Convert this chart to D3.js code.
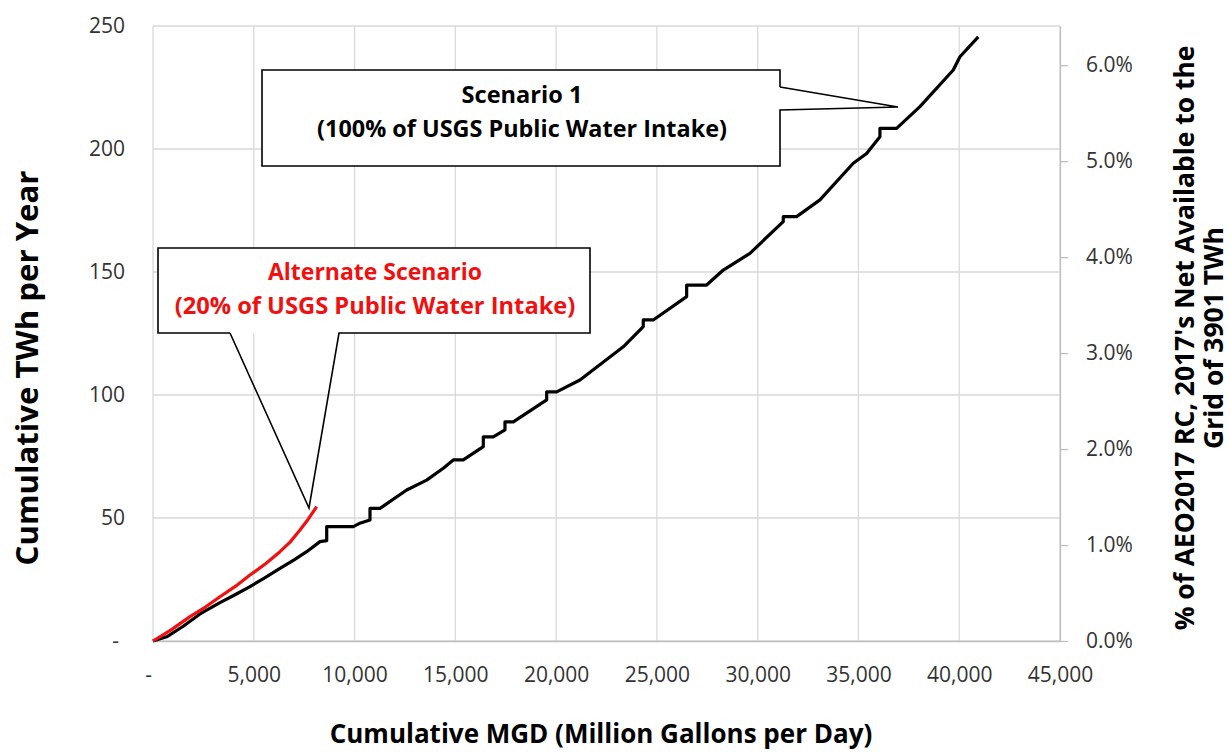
<!DOCTYPE html>
<html>
<head>
<meta charset="utf-8">
<script src="https://cdn.jsdelivr.net/npm/d3@7"></script>
<style>
  body { margin: 0; background: #fff; }
  text { font-family: "Open Sans", "Noto Sans", sans-serif; }
</style>
</head>
<body>
<div id="chart"></div>
<script>
// Scenario 1 (100% of USGS public water intake)
var mgd1 = [0, 680, 1500, 2332, 3300, 4000, 4812, 5500, 6300, 7000, 7625, 8285, 8618, 8618, 9937,
    10300, 10766, 10766, 11262, 12586, 13578, 14403, 14899, 15394, 16387, 16387, 16883, 17463, 17463,
    17877, 19532, 19532, 20028, 21183, 23332, 24324, 24324, 24820, 26477, 26477, 27469, 28293, 29617,
    31270, 31270, 31934, 33090, 34743, 35405, 36066, 36066, 36894, 38050, 39704, 40035, 40945];
var twh1 = [0, 1.7, 6.0, 11.0, 15.5, 18.5, 22.1, 25.5, 29.5, 33.0, 36.3, 40.4, 40.8, 46.5, 46.5,
    48.0, 49.2, 53.9, 53.9, 61.4, 65.4, 70.2, 73.6, 73.6, 79.0, 83.0, 83.0, 85.8, 89.1,
    89.1, 98.0, 101.3, 101.3, 106.1, 119.6, 127.8, 130.5, 130.5, 140.0, 144.7, 144.7, 150.8, 157.6,
    170.5, 172.5, 172.5, 179.3, 194.2, 198.2, 205.0, 208.4, 208.4, 217.2, 232.1, 237.5, 245.6];

// Alternate scenario (20% of USGS public water intake)
var mgd2 = [0, 900, 1836, 2600, 3324, 4100, 4812, 5600, 6300, 6800, 7293, 7700, 8120];
var twh2 = [0, 4.5, 9.9, 13.8, 18.0, 22.3, 26.8, 31.5, 36.3, 40.2, 45.1, 49.5, 54.6];

var xTicks = [0, 5000, 10000, 15000, 20000, 25000, 30000, 35000, 40000, 45000];
var yTicks = [0, 50, 100, 150, 200, 250];
var pctTicks = [0, 0.01, 0.02, 0.03, 0.04, 0.05, 0.06];
var gridTotal = 3901;

var width = 1230,
    height = 752;
var plotL = 153, plotR = 1060, plotT = 26, plotB = 641;

var svg = d3.select("#chart")
    .append("svg")
    .attr("width", width)
    .attr("height", height);

var x = d3.scaleLinear().domain([0, 45000]).range([plotL, plotR]);
var y = d3.scaleLinear().domain([0, 250]).range([plotB, plotT]);
var y2 = d3.scaleLinear().domain([0, 250 / gridTotal]).range([plotB, plotT]);

var fmtX = function (d) { return d === 0 ? "-" : d3.format(",")(d); };
var fmtY = function (d) { return d === 0 ? "-" : d; };

// gridlines
svg.append("g")
    .selectAll("line")
    .data(xTicks)
    .enter()
    .append("line")
    .attr("x1", d => x(d)).attr("x2", d => x(d))
    .attr("y1", plotT).attr("y2", plotB)
    .attr("stroke", "#d9d9d9")
    .attr("stroke-width", 1.3);

svg.append("g")
    .selectAll("line")
    .data(yTicks)
    .enter()
    .append("line")
    .attr("x1", plotL).attr("x2", plotR)
    .attr("y1", d => y(d)).attr("y2", d => y(d))
    .attr("stroke", "#d9d9d9")
    .attr("stroke-width", 1.3);

// bottom axis
var xAxis = svg.append("g")
    .attr("transform", "translate(0," + plotB + ")")
    .call(d3.axisBottom(x).tickValues(xTicks).tickFormat(fmtX).tickSize(0).tickPadding(26));
xAxis.select(".domain").attr("stroke", "#bfbfbf").attr("stroke-width", 1.3);
xAxis.selectAll("text").attr("font-size", 21).attr("fill", "#333")
    .attr("font-family", "Open Sans");
xAxis.selectAll(".tick").filter(d => d === 0).select("text").attr("dx", -5);

// left axis
var yAxis = svg.append("g")
    .attr("transform", "translate(" + plotL + ",0)")
    .call(d3.axisLeft(y).tickValues(yTicks).tickFormat(fmtY).tickSize(0).tickPadding(28));
yAxis.select(".domain").remove();
yAxis.selectAll("text").attr("font-size", 21).attr("fill", "#333")
    .attr("font-family", "Open Sans");
yAxis.selectAll(".tick").filter(d => d === 0).select("text").attr("dx", -6);

// right axis
var rAxis = svg.append("g")
    .attr("transform", "translate(" + plotR + ",0)")
    .call(d3.axisRight(y2).tickValues(pctTicks).tickFormat(d3.format(".1%")).tickSize(8).tickSizeOuter(0).tickPadding(18));
rAxis.select(".domain").attr("stroke", "#bfbfbf").attr("stroke-width", 1.3);
rAxis.selectAll(".tick line").attr("stroke", "#bfbfbf").attr("stroke-width", 1.3);
rAxis.selectAll("text").attr("font-size", 21).attr("fill", "#333")
    .attr("font-family", "Open Sans");

// series
var line = d3.line()
    .x(d => x(d[0]))
    .y(d => y(d[1]));

svg.append("path")
    .datum(d3.zip(mgd1, twh1))
    .attr("d", line)
    .attr("fill", "none")
    .attr("stroke", "#000")
    .attr("stroke-width", 3.2)
    .attr("stroke-linejoin", "round");

svg.append("path")
    .datum(d3.zip(mgd2, twh2))
    .attr("d", line)
    .attr("fill", "none")
    .attr("stroke", "#f01010")
    .attr("stroke-width", 3.2)
    .attr("stroke-linejoin", "round");

// fit a text element to a target width
function fit(sel, w) {
    var len = sel.node().getComputedTextLength();
    var fs = parseFloat(sel.attr("font-size"));
    sel.attr("font-size", fs * w / len);
    return sel;
}

// callouts
function callout(box, outline, lines) {
    svg.append("rect")
        .attr("x", box[0]).attr("y", box[1])
        .attr("width", box[2] - box[0]).attr("height", box[3] - box[1])
        .attr("fill", "#fff");
    svg.append("path")
        .attr("d", d3.line()(outline))
        .attr("fill", "none")
        .attr("stroke", "#000")
        .attr("stroke-width", 1.6)
        .attr("stroke-linejoin", "miter");
    lines.forEach(function (l) {
        var t = svg.append("text")
            .attr("x", l.x).attr("y", l.y)
            .attr("text-anchor", "middle")
            .attr("font-weight", "bold")
            .attr("font-size", 20)
            .attr("fill", l.color)
            .text(l.text);
        fit(t, l.w);
    });
}

callout([262, 70, 780, 166],
    [[780, 87], [780, 70], [262, 70], [262, 166], [780, 166], [780, 110], [898, 107], [780, 87]],
    [{ text: "Scenario 1", x: 522, y: 103, w: 121, color: "#000" },
     { text: "(100% of USGS Public Water Intake)", x: 522, y: 137, w: 410, color: "#000" }]);

callout([158, 248, 590, 333],
    [[230, 333], [158, 333], [158, 248], [590, 248], [590, 333], [339, 333], [309, 508], [230, 333]],
    [{ text: "Alternate Scenario", x: 375, y: 280, w: 214, color: "#f01010" },
     { text: "(20% of USGS Public Water Intake)", x: 375, y: 314, w: 401, color: "#f01010" }]);

// axis titles
fit(svg.append("text")
    .attr("x", 601).attr("y", 743)
    .attr("text-anchor", "middle")
    .attr("font-weight", "bold")
    .attr("font-size", 22)
    .text("Cumulative MGD (Million Gallons per Day)"), 543);

fit(svg.append("text")
    .attr("transform", "translate(27,368) rotate(-90)")
    .attr("dy", "0.35em")
    .attr("text-anchor", "middle")
    .attr("font-weight", "bold")
    .attr("font-size", 22)
    .text("Cumulative TWh per Year"), 395);

fit(svg.append("text")
    .attr("transform", "translate(1185,338) rotate(-90)")
    .attr("dy", "0.35em")
    .attr("text-anchor", "middle")
    .attr("font-weight", "bold")
    .attr("font-size", 22)
    .text("% of AEO2017 RC, 2017's Net Available to the"), 585);

fit(svg.append("text")
    .attr("transform", "translate(1214,338) rotate(-90)")
    .attr("dy", "0.35em")
    .attr("text-anchor", "middle")
    .attr("font-weight", "bold")
    .attr("font-size", 22)
    .text("Grid of 3901 TWh"), 222);
</script>
</body>
</html>
